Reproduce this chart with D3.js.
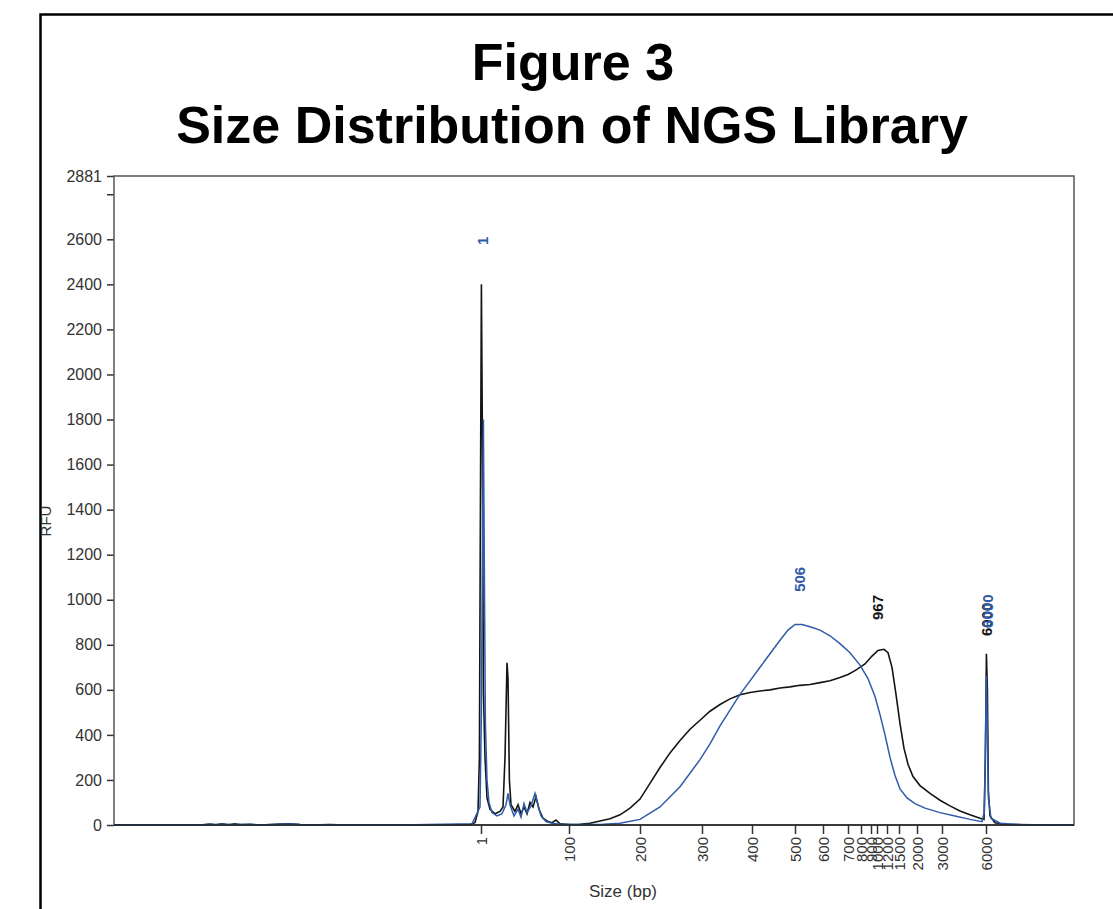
<!DOCTYPE html>
<html lang="en">
<head>
	<meta charset="UTF-8">
	<title>Size Distribution of NGS Library</title>
	<script src="https://cdn.jsdelivr.net/npm/d3@7"></script>
	<style>
		body { margin: 0; background: #fff; }
		svg { display: block; }
	</style>
</head>
<body>
	<div id="chart"></div>
	<script>

	// migration time (min) of each ladder fragment -> size label on the x axis
	var ladderSizes = [1, 100, 200, 300, 400, 500, 600, 700, 800, 900, 1000, 1200, 1500, 2000, 3000, 6000];
	var ladderTimes = [18.35, 22.75, 26.3, 29.4, 31.9, 34.05, 35.45, 36.7, 37.35, 37.85, 38.15, 38.65, 39.25, 40.15, 41.4, 43.6];

	var rfuTicks = [0, 200, 400, 600, 800, 1000, 1200, 1400, 1600, 1800, 2000, 2200, 2400, 2600, 2800, 2881];
	var rfuMax = 2881;
	var timeRange = [0, 48];

	// [time, RFU]
	var blackTrace = [
		[0, 0], [4.3, 0], [4.8, 4], [5.05, 1], [5.4, 5], [5.7, 1], [6.05, 5], [6.3, 1], [6.8, 3], [7.3, 0],
		[8.3, 4], [8.8, 5], [9.3, 2], [9.8, 0], [10.8, 2], [11.55, 0], [14.3, 0], [17.8, 2], [18.05, 10],
		[18.2, 60], [18.27, 300], [18.32, 1400], [18.37, 2400], [18.42, 1700], [18.47, 600], [18.55, 300],
		[18.65, 120], [18.8, 70], [19.05, 50], [19.3, 60], [19.45, 80], [19.55, 300], [19.65, 720], [19.7, 650],
		[19.77, 200], [19.85, 90], [20.05, 60], [20.2, 90], [20.35, 50], [20.5, 80], [20.65, 50], [20.8, 100],
		[20.95, 80], [21.1, 125], [21.25, 70], [21.45, 30], [21.7, 15], [21.9, 10], [22.1, 22], [22.3, 5],
		[22.8, 2], [23.3, 3], [23.8, 8], [24.3, 18], [24.8, 28], [25.3, 45], [25.8, 75], [26.3, 115],
		[26.8, 185], [27.3, 255], [27.8, 320], [28.3, 375], [28.8, 425], [29.3, 465], [29.8, 505], [30.3, 535],
		[30.8, 560], [31.3, 578], [31.8, 588], [32.3, 595], [32.8, 600], [33.3, 608], [33.8, 613], [34.3, 620],
		[34.8, 624], [35.3, 632], [35.8, 640], [36.3, 655], [36.7, 668], [37.05, 685], [37.55, 715], [37.9, 750],
		[38.2, 775], [38.5, 780], [38.7, 765], [38.9, 700], [39.1, 580], [39.3, 450], [39.5, 340], [39.7, 270],
		[39.95, 215], [40.3, 175], [40.8, 140], [41.3, 110], [41.8, 85], [42.3, 62], [42.8, 45], [43.3, 30],
		[43.5, 25], [43.57, 300], [43.62, 760], [43.67, 600], [43.72, 150], [43.8, 40], [44.05, 10], [44.55, 3],
		[46, 1], [48, 0]
	];

	var blueTrace = [
		[0, 0], [4.3, 0], [4.9, 3], [5.2, 1], [5.5, 4], [5.9, 1], [6.2, 3], [6.9, 2], [7.4, 0],
		[8.4, 3], [8.9, 4], [9.4, 1], [10, 0], [10.9, 1], [12, 0], [14.3, 0], [17.9, 5], [18.3, 80],
		[18.37, 500], [18.42, 1200], [18.47, 1800], [18.52, 1100], [18.57, 450], [18.65, 200], [18.75, 100],
		[18.9, 55], [19.15, 40], [19.4, 50], [19.6, 90], [19.7, 140], [19.8, 90], [20.0, 40], [20.2, 70],
		[20.35, 35], [20.5, 95], [20.65, 55], [20.85, 85], [21.05, 140], [21.2, 90], [21.35, 40], [21.6, 15],
		[21.9, 8], [22.3, 3], [24.3, 2], [25.3, 8], [26.3, 25], [27.3, 80], [28.3, 170], [29.3, 290],
		[29.8, 360], [30.3, 440], [30.8, 510], [31.3, 580], [31.8, 640], [32.3, 700], [32.8, 760], [33.3, 820],
		[33.7, 865], [34.05, 890], [34.4, 890], [34.8, 880], [35.3, 865], [35.8, 840], [36.3, 805], [36.8, 765],
		[37.3, 710], [37.7, 650], [38.05, 570], [38.3, 490], [38.55, 400], [38.8, 300], [39.05, 220], [39.3, 160],
		[39.65, 120], [40.05, 95], [40.55, 75], [41.3, 55], [42.05, 40], [42.8, 25], [43.4, 15], [43.52, 60],
		[43.57, 350], [43.62, 660], [43.67, 400], [43.72, 120], [43.85, 30], [44.3, 8], [45.3, 2], [48, 0]
	];

	// peak calls: text, time, RFU of label foot, series
	var peakText = ["1", "506", "967", "6000", "6000"];
	var peakTime = [18.42, 34.3, 38.2, 43.65, 43.7];
	var peakRfu = [2575, 1035, 910, 839, 875];
	var peakSeries = ["blue", "blue", "black", "black", "blue"];

	var colors = { black: "#141414", blue: "#2f5ba8" };

	var W = 1113, H = 909;
	var margin = { top: 176, right: 39, bottom: 84, left: 114 };
	var width = W - margin.left - margin.right;
	var height = H - margin.top - margin.bottom;

	var svg = d3.select("#chart").append("svg")
		.attr("width", W).attr("height", H)
		.style("font-family", "'Liberation Sans', Arial, sans-serif");

	// page frame (cropped on right and bottom)
	svg.append("path")
		.attr("d", "M40.5," + H + "V14.5H" + W)
		.attr("fill", "none").attr("stroke", "#000").attr("stroke-width", 2.5);

	var title = svg.append("text")
		.attr("x", 573).attr("text-anchor", "middle")
		.style("font-size", "52px").style("font-weight", "bold").attr("fill", "#000");
	title.append("tspan").attr("x", 573).attr("y", 80).text("Figure 3");
	title.append("tspan").attr("x", 572).attr("y", 143).text("Size Distribution of NGS Library");

	var g = svg.append("g").attr("transform", "translate(" + margin.left + "," + margin.top + ")");

	var x = d3.scaleLinear().domain(timeRange).range([0, width]);
	var y = d3.scaleLinear().domain([0, rfuMax]).range([height, 0]);

	// y axis
	var yAxis = g.append("g")
		.call(d3.axisLeft(y).tickValues(rfuTicks).tickSize(7).tickPadding(5)
			.tickFormat(function (d) { return d === 2800 ? "" : d; }));
	yAxis.select(".domain").remove();
	yAxis.selectAll("line").attr("stroke", "#333").attr("stroke-width", 1.5);
	yAxis.selectAll("text").attr("fill", "#333").style("font-size", "16px")
		.style("font-family", "'Liberation Sans', Arial, sans-serif");

	// x axis with size labels
	var xAxis = g.append("g").attr("transform", "translate(0," + height + ")")
		.call(d3.axisBottom(x).tickValues(ladderTimes).tickSize(9)
			.tickFormat(function (d, i) { return ladderSizes[i]; }));
	xAxis.select(".domain").remove();
	xAxis.selectAll("line").attr("stroke", "#333").attr("stroke-width", 1.5);
	xAxis.selectAll("text")
		.attr("x", -12).attr("y", 0).attr("dy", "0.35em")
		.attr("transform", "rotate(-90)")
		.style("text-anchor", "end")
		.attr("fill", "#333").style("font-size", "15px")
		.style("font-family", "'Liberation Sans', Arial, sans-serif");

	// plot frame
	g.append("rect")
		.attr("width", width).attr("height", height)
		.attr("fill", "none").attr("stroke", "#555").attr("stroke-width", 1.5);

	var line = d3.line()
		.x(function (d) { return x(d[0]); })
		.y(function (d) { return y(d[1]); });

	g.append("path").datum(blackTrace)
		.attr("d", line).attr("fill", "none")
		.attr("stroke", colors.black).attr("stroke-width", 1.6);
	g.append("path").datum(blueTrace)
		.attr("d", line).attr("fill", "none")
		.attr("stroke", colors.blue).attr("stroke-width", 1.5);

	// bottom axis line drawn over the baseline
	g.append("line")
		.attr("x1", 0).attr("x2", width).attr("y1", height).attr("y2", height)
		.attr("stroke", "#222").attr("stroke-width", 1.5);

	// peak labels
	peakText.forEach(function (t, i) {
		g.append("text")
			.attr("transform", "translate(" + x(peakTime[i]) + "," + y(peakRfu[i]) + ") rotate(-90)")
			.attr("dy", "0.35em")
			.style("font-size", "15px").style("font-weight", "bold")
			.attr("fill", colors[peakSeries[i]])
			.text(t);
	});

	svg.append("text")
		.attr("transform", "translate(51,521) rotate(-90)")
		.attr("text-anchor", "middle")
		.style("font-size", "15px").attr("fill", "#333")
		.text("RFU");

	svg.append("text")
		.attr("x", 623).attr("y", 897)
		.attr("text-anchor", "middle")
		.style("font-size", "17px").attr("fill", "#333")
		.text("Size (bp)");

	</script>
</body>
</html>
